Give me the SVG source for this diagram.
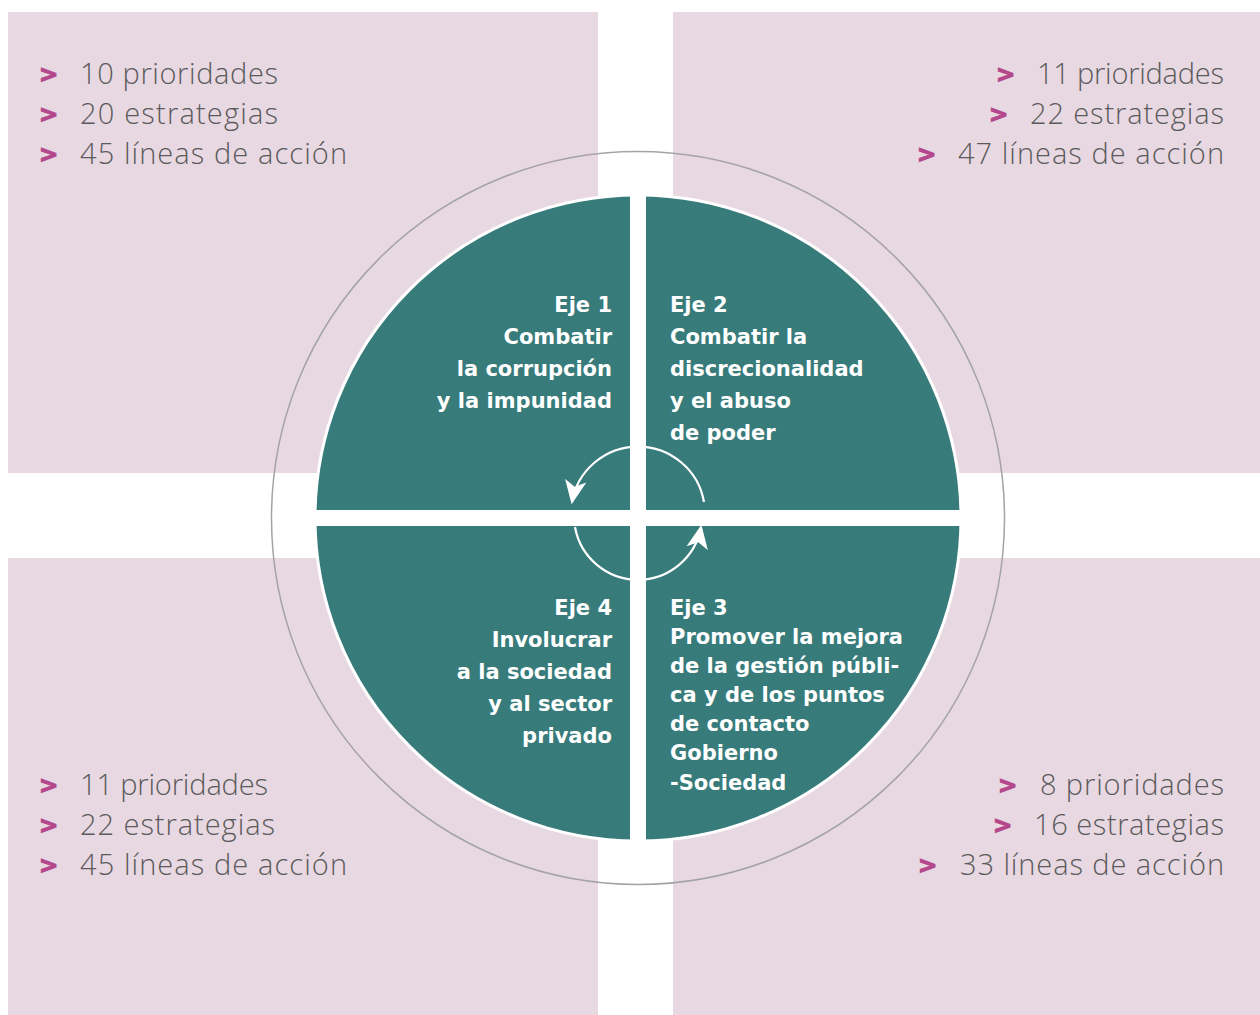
<svg xmlns="http://www.w3.org/2000/svg" width="1260" height="1015" viewBox="0 0 1260 1015">
<defs>
<style>
.bg{fill:#e8d8e2}
.stat{font-family:"Open Sans","Liberation Sans",sans-serif;font-weight:300;font-size:29px;fill:#5b5b5b}
.chev{font-family:"DejaVu Sans","Liberation Sans",sans-serif;font-weight:bold;font-size:23px;fill:#b5478c;stroke:#b5478c;stroke-width:1.2}
.eje{font-family:"DejaVu Sans","Liberation Sans",sans-serif;font-weight:bold;font-size:21px;fill:#ffffff}
.r{text-anchor:end}
</style>
<marker id="ah2" viewBox="0 0 10 10" refX="9" refY="5" markerWidth="24" markerHeight="24" markerUnits="userSpaceOnUse" orient="auto">
<path d="M0,0.5 L10,5 L0,9.5 L2.5,5 Z" fill="#ffffff"/>
</marker>
</defs>
<rect width="1260" height="1015" fill="#ffffff"/>
<g id="backgrounds">
<rect class="bg" x="8" y="12" width="590" height="461"/>
<rect class="bg" x="673" y="12" width="587" height="461"/>
<rect class="bg" x="8" y="558" width="590" height="457"/>
<rect class="bg" x="673" y="558" width="587" height="457"/>
</g>
<circle cx="638" cy="518" r="366.5" fill="none" stroke="#a4a4a4" stroke-width="1.5"/>
<circle cx="638" cy="518" r="323" fill="#387b7b" stroke="#ffffff" stroke-width="3"/>
<rect x="630" y="190" width="16" height="656" fill="#ffffff"/>
<rect x="310" y="510" width="656" height="16" fill="#ffffff"/>
<g id="connectors" fill="none" stroke="#ffffff" stroke-width="2.2">
<path d="M704,502 A67,67 0 0,0 572,502" marker-end="url(#ah2)"/>
<path d="M575,527 A64,64 0 0,0 701,527" marker-end="url(#ah2)"/>
</g>
<g id="eje1">
<text class="eje r" x="612" y="312">Eje 1</text>
<text class="eje r" x="612" y="344">Combatir</text>
<text class="eje r" x="612" y="376">la corrupción</text>
<text class="eje r" x="612" y="408">y la impunidad</text>
</g>
<g id="eje2">
<text class="eje" x="670" y="312">Eje 2</text>
<text class="eje" x="670" y="344">Combatir la</text>
<text class="eje" x="670" y="376">discrecionalidad</text>
<text class="eje" x="670" y="408">y el abuso</text>
<text class="eje" x="670" y="440">de poder</text>
</g>
<g id="eje4">
<text class="eje r" x="612" y="615">Eje 4</text>
<text class="eje r" x="612" y="647">Involucrar</text>
<text class="eje r" x="612" y="679">a la sociedad</text>
<text class="eje r" x="612" y="711">y al sector</text>
<text class="eje r" x="612" y="743">privado</text>
</g>
<g id="eje3">
<text class="eje" x="670" y="615">Eje 3</text>
<text class="eje" x="670" y="644">Promover la mejora</text>
<text class="eje" x="670" y="673">de la gestión públi-</text>
<text class="eje" x="670" y="702">ca y de los puntos</text>
<text class="eje" x="670" y="731">de contacto</text>
<text class="eje" x="670" y="760">Gobierno</text>
<text class="eje" x="670" y="790">-Sociedad</text>
</g>
<g id="stats-tl">
<text class="chev" x="39" y="82">&gt;</text><text class="stat" x="80" y="84" textLength="198" lengthAdjust="spacing">10 prioridades</text>
<text class="chev" x="39" y="122">&gt;</text><text class="stat" x="80" y="124" textLength="198" lengthAdjust="spacing">20 estrategias</text>
<text class="chev" x="39" y="162">&gt;</text><text class="stat" x="80" y="164" textLength="267" lengthAdjust="spacing">45 líneas de acción</text>
</g>
<g id="stats-tr">
<text class="chev" x="996" y="82">&gt;</text><text class="stat r" x="1224" y="84" textLength="187" lengthAdjust="spacing">11 prioridades</text>
<text class="chev" x="989" y="122">&gt;</text><text class="stat r" x="1224" y="124" textLength="194" lengthAdjust="spacing">22 estrategias</text>
<text class="chev" x="917" y="162">&gt;</text><text class="stat r" x="1224" y="164" textLength="266" lengthAdjust="spacing">47 líneas de acción</text>
</g>
<g id="stats-bl">
<text class="chev" x="39" y="793">&gt;</text><text class="stat" x="80" y="795" textLength="188" lengthAdjust="spacing">11 prioridades</text>
<text class="chev" x="39" y="833">&gt;</text><text class="stat" x="80" y="835" textLength="195" lengthAdjust="spacing">22 estrategias</text>
<text class="chev" x="39" y="873">&gt;</text><text class="stat" x="80" y="875" textLength="267" lengthAdjust="spacing">45 líneas de acción</text>
</g>
<g id="stats-br">
<text class="chev" x="998" y="793">&gt;</text><text class="stat r" x="1224" y="795" textLength="184" lengthAdjust="spacing">8 prioridades</text>
<text class="chev" x="993" y="833">&gt;</text><text class="stat r" x="1224" y="835" textLength="190" lengthAdjust="spacing">16 estrategias</text>
<text class="chev" x="918" y="873">&gt;</text><text class="stat r" x="1224" y="875" textLength="264" lengthAdjust="spacing">33 líneas de acción</text>
</g>
</svg>
